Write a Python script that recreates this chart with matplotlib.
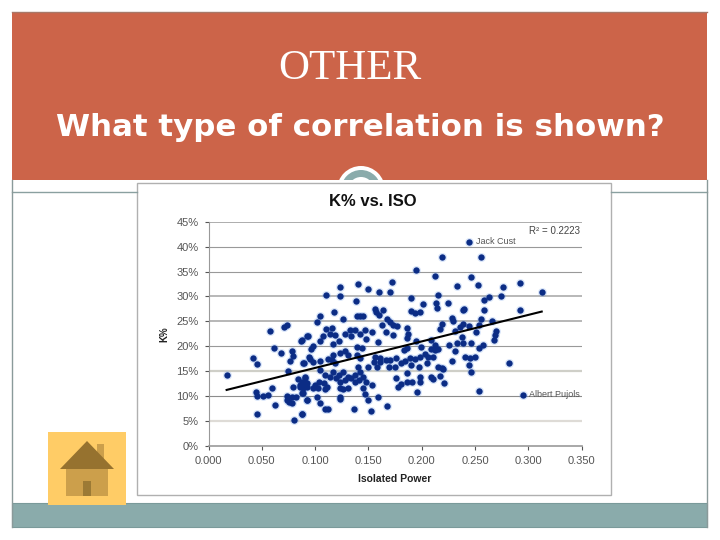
import matplotlib
matplotlib.use('Agg')
import matplotlib.pyplot as plt
from matplotlib.patches import Rectangle, Circle, Polygon

iso = [
    .0177, .0415, .0455, .0577, .071, .074, .061, .068, .078, .0796, .0765, .0746, .0865, .0927, .089, .0945,
    .0443, .0458, .0514, .0558, .0596, .0624, .0452, .074, .078, .0757, .082, .074, .078, .0874, .080, .089,
    .0796, .0843, .0906, .089, .092, .086, .0927,
    .123, .140, .1725, .150, .160, .170, .110, .123, .138, .118, .156, .164, .157, .160, .1046, .1015, .126,
    .139, .145, .142, .167, .170, .173, .177, .163, .110, .116, .166, .173, .128, .133, .137, .142, .147, .153,
    .134, .114, .119, .148, .159, .0936, .0874, .107, .1046, .117, .122, .098, .096, .139, .144, .128,
    .117, .123, .131, .116, .112, .119, .095, .098, .1046, .0896, .142, .139, .150,
    .156, .161, .155, .161, .166, .170, .176, .158, .169, .175,
    .1046, .109, .117, .122, .1265, .114, .120, .1406, .142, .137, .134, .131, .145, .141, .128, .123, .148,
    .153, .137, .0905, .0874, .092, .089, .0858, .100, .103, .098, .108, .111, .109, .104, .123, .1265, .131,
    .145, .147, .176, .178, .159, .150, .167, .1525, .1365, .123, .123, .1015, .105, .092, .088, .109, .112, .0874,
    .219, .2557, .1946, .2128, .246, .233, .253, .2766, .292, .190, .215, .263, .258, .274, .201, .213, .214,
    .2247, .240, .239, .2585, .2917, .190, .194, .198, .228, .229, .256, .266, .219, .239, .244, .254, .186,
    .187, .186, .217, .236, .231, .251, .270, .269, .268, .238, .195, .209, .186, .183, .199, .212, .215, .209,
    .212, .226, .233, .239, .246, .257, .254, .231, .203, .198, .206, .211, .189, .194, .184, .190, .181, .205,
    .228, .241, .245, .250, .244, .282, .197, .215, .220, .219, .246, .186, .217, .209, .211, .198, .198, .191,
    .186, .181, .221, .254, .196, .295, .3125, .244,
]
k_pct = [
    .143, .177, .165, .231, .2395, .243, .196, .187, .191, .181, .170, .151, .211, .221, .166, .178,
    .108, .100, .0998, .103, .1165, .0817, .0636, .100, .0975, .089, .099, .093, .087, .064, .052, .107,
    .119, .134, .138, .126, .119, .119, .092,
    .319, .326, .330, .315, .308, .308, .302, .301, .290, .268, .275, .272, .268, .262, .260, .248, .254,
    .260, .260, .261, .254, .248, .243, .240, .243, .235, .236, .228, .223, .225, .232, .232, .225, .232, .228,
    .220, .225, .223, .214, .208, .221, .213, .221, .210, .205, .210, .201, .194, .198, .196, .191,
    .183, .186, .183, .173, .174, .166, .174, .169, .171, .166, .176, .183, .159,
    .179, .176, .169, .169, .173, .173, .176, .159, .159, .159,
    .153, .143, .149, .143, .149, .139, .136, .159, .149, .143, .136, .139, .139, .133, .133, .129, .129,
    .123, .129, .136, .129, .126, .116, .123, .123, .116, .116, .126, .119, .114, .129, .116, .114, .116,
    .116, .105, .136, .119, .099, .092, .080, .071, .074, .099, .094, .098, .087, .092, .107, .074, .074, .064,
    .379, .379, .353, .341, .340, .321, .323, .318, .327, .297, .303, .299, .293, .301, .285, .286, .276,
    .286, .274, .272, .272, .272, .271, .266, .268, .256, .250, .254, .250, .245, .245, .241, .243, .236,
    .225, .216, .234, .238, .230, .228, .230, .223, .212, .218, .210, .212, .196, .192, .198, .203, .194, .194,
    .193, .203, .206, .206, .206, .202, .196, .190, .185, .179, .178, .179, .176, .174, .170, .163, .166, .167,
    .170, .179, .176, .178, .163, .166, .159, .158, .154, .156, .148, .146, .141, .139, .134, .138, .129, .129,
    .128, .125, .126, .111, .108, .103, .3086, .41,
]
trend_x = [.017, .3125]
trend_y = [.1125, .2697]

x_ticks = [0, .05, .10, .15, .20, .25, .30, .35]
y_ticks = [0, .05, .10, .15, .20, .25, .30, .35, .40, .45]
# grid colour and width per y tick, the picture was scaled so they differ
grid_colors = ['#888888', '#dedbd6', '#8c8c8c', '#cfcfc8', '#999999', '#aaaaaa', '#b8b8b8', '#999999', '#999999', '#a0a0a0']
grid_widths = [1.2, 1.6, 0.8, 1.6, 0.8, 1.2, 1.4, 0.8, 0.8, 1.2]

plt.rcParams['font.family'] = ['Liberation Sans', 'DejaVu Sans']

fig = plt.figure(figsize=(7.2, 5.4), dpi=100, facecolor='white')

# slide background, in pixels
bg = fig.add_axes([0, 0, 1, 1])
bg.set_xlim(0, 720)
bg.set_ylim(540, 0)
bg.axis('off')

header = Rectangle((12, 12), 695, 168, fc='#cc6449', ec='none')
bg.add_patch(header)
bg.plot([12, 707], [12, 12], color='#a87868', lw=1)
for r, c in [(24, 'white'), (20, '#8aabab'), (13, 'white')]:
    circ = Circle((361, 190), r, fc=c, ec='none')
    bg.add_patch(circ)
    circ.set_clip_path(header)
bg.plot([12, 137], [192, 192], color='#8aa0a0', lw=1)
bg.plot([611, 707], [192, 192], color='#8aa0a0', lw=1)
bg.plot([12, 12], [180, 527], color='#8a9a9a', lw=1)
bg.plot([707, 707], [180, 527], color='#8a9a9a', lw=1)
bg.add_patch(Rectangle((12, 503), 695, 24, fc='#8aabab', ec='#7a9a9a', lw=0.8))

bg.text(350, 69, 'OTHER', family='Liberation Serif', fontsize=31, color='white', ha='center', va='center')
bg.text(360, 127, 'What type of correlation is shown?', family='DejaVu Sans', fontsize=22.2,
        fontweight='bold', color='white', ha='center', va='center')

# chart picture box
bg.add_patch(Rectangle((137, 183), 474, 312, fc='white', ec='#b0b0b0', lw=1))
bg.text(373, 201, 'K% vs. ISO', fontsize=12, fontweight='bold', color='#111111', ha='center', va='center')

# home button
bg.add_patch(Rectangle((48, 432), 78, 73, fc='#ffcc66', ec='none'))
bg.add_patch(Rectangle((97, 444), 7, 18, fc='#cc9f4b', ec='none'))
bg.add_patch(Rectangle((66, 469), 42, 27, fc='#cc9f4b', ec='none'))
bg.add_patch(Rectangle((83, 481), 8, 15, fc='#9c7a35', ec='none'))
bg.add_patch(Polygon([(87, 441), (60, 469), (114, 469)], fc='#96722f', ec='none'))

ax = fig.add_axes([208.5 / 720, 1 - 446 / 540, (581.7 - 208.5) / 720, (446 - 221.7) / 540])
ax.patch.set_alpha(0)
ax.set_xlim(0, .35)
ax.set_ylim(0, .45)
ax.set_xticks(x_ticks)
ax.set_yticks(y_ticks)
ax.set_xticklabels([f'{t:.3f}' for t in x_ticks])
ax.set_yticklabels([f'{t * 100:.0f}%' for t in y_ticks])
ax.tick_params(labelsize=8, colors='#555555', length=3, width=0.8)
ax.tick_params(axis='x', pad=4)
ax.tick_params(axis='y', pad=4)
for s in ['top', 'right']:
    ax.spines[s].set_visible(False)
for s in ['left', 'bottom']:
    ax.spines[s].set_color('#999999')
ax.spines['bottom'].set_linewidth(1.2)
for t, c, w in zip(y_ticks[1:], grid_colors[1:], grid_widths[1:]):
    ax.axhline(t, color=c, lw=w, zorder=1)

ax.scatter(iso, k_pct, s=42, color='#5a90e8', alpha=0.22, linewidths=0, zorder=2)
ax.scatter(iso, k_pct, s=21, color='#0b2c85', linewidths=0, zorder=3)
ax.plot(trend_x, trend_y, color='black', lw=1.5, zorder=4)

ax.set_xlabel('Isolated Power', fontsize=7.5, fontweight='bold', color='#222222', labelpad=6)
ax.set_ylabel('K%', fontsize=7, fontweight='bold', color='#222222', labelpad=5)
ax.annotate('Jack Cust', (iso[-1], k_pct[-1]), xytext=(5, 0), textcoords='offset points',
            fontsize=6.5, color='#555555', va='center')
ax.annotate('Albert Pujols', (iso[-3], k_pct[-3]), xytext=(4, 0), textcoords='offset points',
            fontsize=6.5, color='#555555', va='center')
bg.text(580, 231, 'R² = 0.2223', fontsize=7, color='#444444', ha='right', va='center')

fig.savefig('out.png', dpi=100)
